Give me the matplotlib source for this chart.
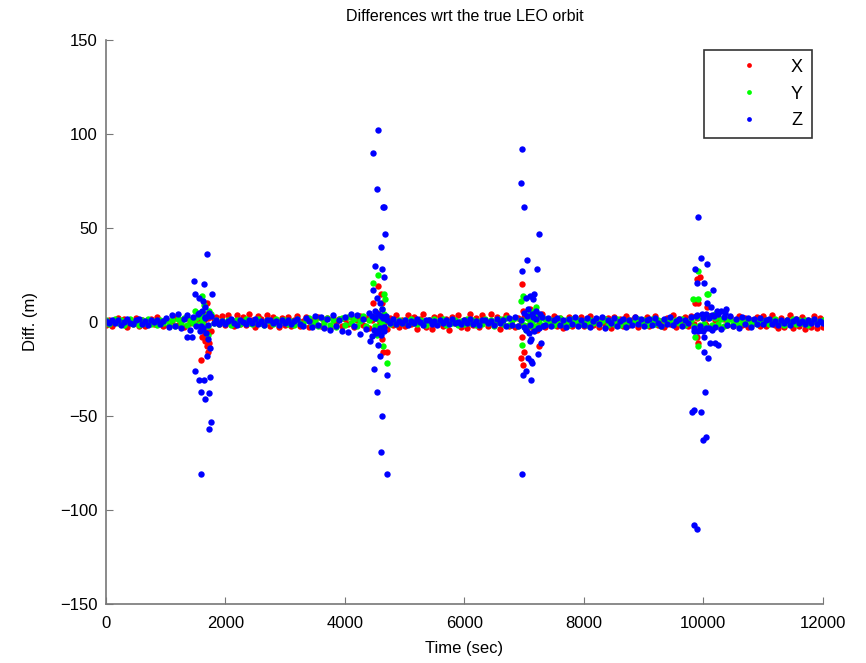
import matplotlib
matplotlib.use("Agg")
import matplotlib.pyplot as plt
import numpy as np

plt.rcParams['font.family'] = ['Liberation Sans', 'DejaVu Sans']

# sampling epochs of the quiet part (sec)
t_bg = np.arange(0, 12001, 50)

# X residuals on the sampling epochs (m)
x_bg = [
    -1.8, 1.2, -2.4, 0.6, 2.0, -1.1, 1.7, -2.6, 0.9, -0.4, 2.3, -1.9, 1.1, -2.2, 0.5, 1.8, -1.3, 2.5, -0.8, -2.0,
    1.4, -2.3, 0.7, 2.6, -1.5, 1.0, -2.7, 1.9, -0.6, 2.2, -1.8, 0.4, -3.0, -6.5, 2.0, -4.8, 1.6, 2.4, -1.2, 3.1,
    -1.6, 3.5, 1.2, -2.2, 3.8, -0.9, 2.9, -1.7, 4.1, 0.8, -2.5, 3.3, 1.5, -1.1, 3.9, -2.0, 2.6, 0.3, -2.8, 2.1,
    -1.4, 2.7, -2.3, 1.0, 3.2, -1.9, 0.5, 2.4, -2.6, 1.3, -1.0, 2.8, -2.1, 0.7, 1.9, -3.1, 2.2, -0.8, 1.5, -2.4,
    1.8, -1.3, 2.5, -2.9, 0.9, 3.0, -1.6, 2.1, -3.4, 1.1, 2.7, -2.4, 3.1, -0.6, -3.8, 2.3, -1.4, 3.6, -2.7, 1.2,
    -2.2, 3.9, -1.0, 2.4, -3.6, 1.5, 4.2, -2.6, 0.8, -3.9, 2.9, -1.3, 3.4, -2.1, 1.7, -4.3, 2.6, -0.7, 3.7, -2.5,
    1.0, -3.2, 4.0, -1.8, 2.2, -2.9, 3.5, 0.6, -2.3, 4.4, -1.5, 2.8, -3.5, 1.4, 3.6, -2.0, 0.9, -2.8, 2.3, -1.1,
    2.6, -2.2, 1.3, -3.0, 3.3, -1.2, 4.1, -2.5, 1.8, -0.9, 3.2, -1.9, 2.0, -3.3, 0.7, 2.9, -2.1, 1.4, -1.6, 2.4,
    -2.0, 1.6, 3.0, -1.7, 0.8, -2.6, 2.3, -1.1, 1.9, -3.0, 2.7, -0.6, 1.4, -2.3, 3.1, -1.5, 0.9, 2.5, -2.7, 1.2,
    -1.3, 2.8, -2.4, 1.0, 3.4, -1.8, 0.6, -2.9, 2.2, -1.2, 3.6, -2.5, 1.5, -0.8, 2.4, -2.0, 3.3, -1.1, 1.9, -3.2,
    2.5, -1.6, 3.0, -2.6, 1.2, 2.1, -3.1, 1.7, -1.4, 2.9, -2.2, 0.9, 3.4, -1.7, 2.0, -2.8, 1.3, -0.6, 2.6, -1.9,
    3.2, -2.4, 1.1, 3.7, -1.5, -3.4, 2.3, -2.8, 0.8, 3.5, -3.1, 1.6, -2.0, 2.8, -3.6, 1.2, -2.5, 3.0, -3.3, 2.1,
    -2.7,
]

# Y residuals on the sampling epochs (m)
y_bg = [
    0.9, -1.2, 0.3, 1.5, -0.7, 1.1, -1.6, 0.4, 1.8, -0.9, 0.6, -1.4, 1.2, -0.3, 1.7, -1.0, 0.5, -1.8, 1.3, -0.5,
    1.0, -1.5, 0.8, -2.0, 1.6, -0.4, 2.1, -1.7, 1.1, -0.8, 1.9, -1.3, 2.4, 3.2, -2.1, 4.5, -0.6, 1.2, -1.1, 0.7,
    -0.8, 1.3, -1.5, 0.5, 1.1, -1.2, 0.2, 1.6, -0.7, -1.3, 0.9, 1.4, -0.4, -1.6, 1.0, 0.3, -1.1, 1.5, -0.6, 0.8,
    1.2, -0.9, 0.4, -1.4, 1.7, -0.3, -1.8, 1.1, 2.0, -1.5, 0.6, -2.2, 1.9, -0.8, 2.3, -1.6, 0.9, -2.5, 1.4, 2.1,
    -1.7, 2.6, -0.5, 1.8, -2.4, 0.7, 3.0, -1.9, 1.2, 2.8, -2.0, 1.5, -1.1, 0.6, 1.3, -0.9, 0.4, -1.2, 1.0, -0.6,
    0.8, -1.3, 1.5, -0.4, -1.0, 1.2, 0.3, -1.6, 0.9, -0.7, 1.4, -1.1, 0.5, 1.7, -1.4, 0.2, -0.8, 1.3, -1.5, 0.6,
    -0.9, 1.6, -0.3, 1.1, -1.7, 0.7, -1.2, 1.8, -0.5, 1.0, -1.9, 0.4, 1.5, -1.0, 2.0, -1.6, 0.8, 1.9, -2.1, 1.2,
    -1.8, 2.2, -0.7, 1.5, -2.0, 0.9, -1.4, 1.7, -0.6, 1.3, -1.5, 0.5, 1.9, -1.2, 0.8, -1.7, 1.4, -0.4, 1.1, -1.3,
    0.7, -1.6, 1.2, -0.8, 1.8, -1.1, 0.3, 1.5, -1.4, 0.6, -0.9, 1.6, -1.8, 1.0, -0.5, 1.3, -1.2, 0.4, 1.7, -0.7,
    1.1, -1.5, 0.5, 1.4, -1.0, 0.8, -1.9, 1.2, -0.3, 1.6, -1.3, 0.9, -0.6, 1.8, -1.6, 0.2, 1.3, -2.2, 2.6, -1.4,
    1.9, -2.5, 2.8, -1.6, 2.2, -1.1, 1.5, -2.0, 0.8, 1.7, -1.3, 0.6, -1.5, 1.2, -0.8, 1.4, -1.0, 0.5, -1.2, 0.9,
    -0.6, 1.3, -1.1, 0.7, 1.5, -0.9, 0.4, -1.4, 1.0, -0.5, 1.6, -1.2, 0.8, -0.3, 1.1, -1.5, 0.6, 1.2, -0.8, 0.3,
    1.0,
]

# Z residuals on the sampling epochs (m)
z_bg = [
    0.5, -0.8, 1.2, -0.3, 0.9, -1.5, 0.2, 1.4, -0.6, -1.1, 0.8, 1.6, -0.9, 0.3, -1.7, 1.0, -0.2, 1.3, -1.2, 0.6,
    2.1, -2.8, 3.5, -1.9, 4.2, -3.1, 1.5, 3.8, -4.0, 2.6, -2.2, 4.6, -3.6, 2.9, -1.4, 3.3, -0.5, 1.2, -0.9, 0.4,
    -1.1, 0.7, 1.5, -0.4, -1.6, 0.9, 0.2, -1.3, 1.1, -0.6, 1.4, -1.0, 0.5, -1.8, 0.8, 1.2, -0.7, 0.3, -1.4, 1.0,
    -0.5, 1.3, -1.2, 0.6, 1.7, -0.9, -1.9, 2.2, 0.4, -2.6, 3.1, -1.5, 2.4, -3.3, 1.8, -4.2, 3.6, -2.1, 0.9, -4.8,
    2.7, -5.1, 4.4, -2.3, 3.9, -6.2, 1.6, -3.8, 5.0, -7.5, 2.2, -4.6, 3.4, -2.8, 1.1, -0.6, 1.5, -1.2, 0.7, -0.3,
    1.1, -1.4, 0.6, -0.8, 1.5, -0.2, -1.6, 0.9, 1.3, -1.0, 0.4, -1.5, 1.2, -0.5, 0.8, -1.1, 1.6, -0.7, 0.2, -1.3,
    1.0, -0.4, 1.4, -1.2, 0.5, -1.7, 0.9, 1.2, -0.8, 0.3, -1.4, 1.6, -0.6, 1.1, -1.9, 2.0, -1.5, 2.4, -2.2, 1.3,
    -2.6, 3.0, -1.8, 2.5, 1.4, -3.2, 2.8, -1.6, 1.9, -2.4, 0.8, 2.3, -1.7, 1.2, -2.9, 1.8, -0.9, 2.6, -2.0, 1.1,
    -1.5, 2.2, -2.7, 0.7, 1.9, -1.2, 2.4, -3.4, 1.3, -0.8, 2.0, -1.9, 0.6, 1.6, -2.5, 1.0, -1.4, 2.7, -0.9, 1.5,
    -2.1, 0.9, 1.8, -1.6, 2.3, -0.7, -2.4, 1.4, -1.1, 2.6, -1.8, 0.5, 1.7, -2.2, 1.2, -0.6, 2.9, -3.1, 3.8, -4.5,
    2.2, 4.1, -3.3, 3.6, -2.7, 4.4, -3.9, 2.5, -1.8, 3.2, -2.4, 1.6, -3.0, 2.8, -1.3, 2.1, -2.6, 1.4, -0.9, 1.9,
    -1.2, 0.8, 1.5, -1.0, 0.4, -1.6, 1.3, -0.5, 1.1, -1.4, 0.7, 1.6, -0.8, 0.3, -1.3, 1.0, -0.6, 1.5, -1.1, 0.5,
    -0.4,
]

# epochs and residuals near the four bursts
x_burst_t = [1591, 1692, 1660, 1720, 1600, 1690, 1692, 1610, 1650, 1640, 1680, 1700, 1700,
             4556, 4600, 4620, 4472, 4539, 4580, 4620, 4623, 4640, 4700, 4500, 4660,
             6968, 6985, 7102, 7140, 6968, 7002, 6951, 6985, 7253, 7050, 7180, 7220,
             9899, 9866, 9916, 10067, 9916, 9899, 10067, 10034, 10120, 10000, 9950]
x_burst = [-20, -13, -10, -11, -8, -8, 10, 5, 4, 1, -3, -16, -6,
           19, 15, 10, 10, 5, 0, -5, -9, -16, -16, 2, -3,
           20, 6, 7, 4, -8, -16, -19, -23, -13, -3, 2, -4,
           23, 10, 10, 8, -11, -8, 2, -1, 3, -4, 24]

y_burst_t = [1610, 1490, 1720, 1700, 1600, 1670, 1709, 1640, 1580,
             4556, 4472, 4657, 4670, 4623, 4650, 4556, 4539, 4640, 4707, 4590,
             6985, 6951, 7102, 7140, 7180, 7200, 6968, 7040, 7120, 7160,
             9916, 9832, 9916, 10067, 10080, 9866, 9916, 10067, 10150, 10200, 10017]
y_burst = [14, 6, 6, 4, 0, -2, -7, 9, 3,
           25, 21, 15, 12, 7, 4, -3, -7, -13, -22, 2,
           14, 11, 5, 0, 3, 8, -12, -4, -2, 6,
           27, 12, 12, 15, 15, -8, -13, 3, -2, 4, -1]

z_burst_t = [1360, 1440, 1474, 1490, 1490, 1558, 1558, 1591, 1591, 1625, 1641, 1641, 1658, 1692,
             1692, 1725, 1725, 1742, 1742, 1759, 1776,
             1540, 1575, 1600, 1620, 1650, 1670, 1700, 1710, 1730, 1590, 1660,
             4556, 4472, 4539, 4640, 4657, 4673, 4606, 4506, 4623, 4657, 4472, 4539, 4590, 4620,
             4422, 4556, 4590, 4489, 4707, 4539, 4623, 4606, 4707,
             4450, 4480, 4500, 4520, 4560, 4580, 4600, 4640, 4660, 4690,
             6968, 6951, 7002, 7253, 7052, 7219, 6968, 7102, 7160, 7040, 7150, 7102, 7119, 7286,
             7069, 7236, 7119, 7140, 6985, 7035, 7119, 6968,
             7000, 7030, 7060, 7080, 7130, 7170, 7200, 7240, 7270, 7310,
             9916, 9966, 10067, 9866, 9899, 10017, 10168, 10067, 10134, 10235, 10300, 10385, 10360,
             9849, 9916, 10000, 10020, 10117, 10200, 10250, 10017, 10084, 10034, 9815, 9849, 9966,
             10050, 10000, 9849, 9899,
             9880, 9950, 9980, 10040, 10090, 10150, 10180]
z_burst = [-8, -8, 22, 15, -26, 13, -31, -37, -81, 11, 20, -31, -41, 36,
           -18, -38, -57, -14, -29, -53, 15,
           4, -5, 6, -3, 8, -6, 3, -9, 5, -2, 2,
           102, 90, 71, 61, 61, 47, 40, 30, 28, 24, 17, 13, 10, 7,
           -10, -12, -18, -25, -28, -37, -50, -69, -81,
           3, -4, 6, -6, 4, -3, -7, 2, -5, 3,
           92, 74, 61, 47, 33, 28, 27, 14, 15, 13, 12, -10, -9, -11,
           -19, -17, -21, -22, -28, -26, -31, -81,
           5, -4, 7, -6, 4, -5, 6, -3, 4, -2,
           56, 34, 31, 28, 21, 21, 17, 10, 8, 6, 6, 7, 5,
           -5, -5, -5, -8, -11, -11, -12, -16, -19, -37, -48, -47, -48,
           -61, -63, -108, -110,
           3, -2, 4, -3, 2, -4, 3]

fig = plt.figure(figsize=(8.66, 6.63), dpi=100)
ax = fig.add_axes([0.1224, 0.089, 0.8276, 0.8507])

ms = 4.6
ax.plot(np.concatenate([t_bg, x_burst_t]), np.concatenate([x_bg, x_burst]), 'o',
        color='#ff0000', markersize=ms, markeredgewidth=0, label='X')
ax.plot(np.concatenate([t_bg, y_burst_t]), np.concatenate([y_bg, y_burst]), 'o',
        color='#00ff00', markersize=ms, markeredgewidth=0, label='Y')
ax.plot(np.concatenate([t_bg, z_burst_t]), np.concatenate([z_bg, z_burst]), 'o',
        color='#0000ff', markersize=ms, markeredgewidth=0, label='Z')

ax.set_xlim(0, 12000)
ax.set_ylim(-150, 150)
ax.set_xticks(range(0, 12001, 2000))
ax.set_yticks(range(-150, 151, 50))
ax.tick_params(direction='in', length=5, labelsize=12, top=False, right=False,
               color='#777777', pad=6)
ax.tick_params(axis='x', pad=9)
ax.spines['top'].set_visible(False)
ax.spines['right'].set_visible(False)
for s in ['left', 'bottom']:
    ax.spines[s].set_color('#777777')
    ax.spines[s].set_linewidth(1.2)

ax.set_title('Differences wrt the true LEO orbit', fontsize=11.5, pad=14)
ax.set_xlabel('Time (sec)', fontsize=12, labelpad=7)
ax.set_ylabel('Diff. (m)', fontsize=12, labelpad=16)

leg = ax.legend(loc='upper right', bbox_to_anchor=(0.985, 0.983), fontsize=13,
                fancybox=False, shadow=False, handlelength=4.0, handletextpad=0.3,
                labelspacing=0.55, borderpad=0.5, borderaxespad=0, markerscale=0.75)
leg.get_frame().set_edgecolor('black')
leg.get_frame().set_linewidth(1.2)

plt.savefig('out.png', dpi=100)
